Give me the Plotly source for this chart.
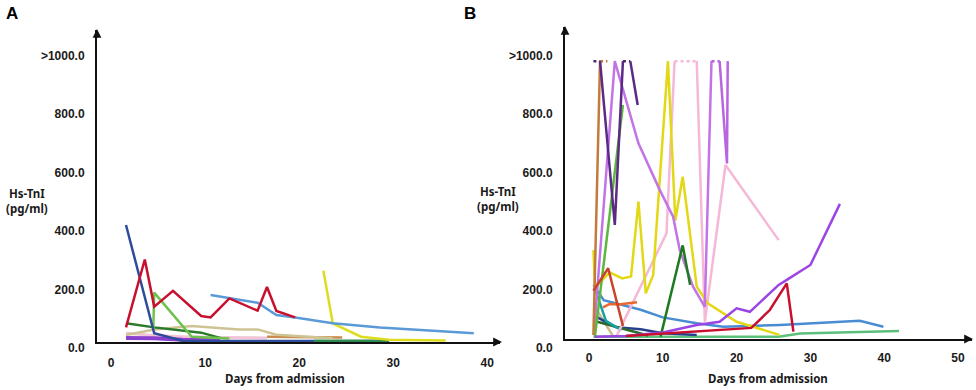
import plotly.graph_objects as go

# ---------------- data ----------------
CAP = 950  # plotted level of ">1000" values

# Panel A
a_navy_days = [2, 5, 8, 22]
a_navy_vals = [400, 30, 4, 3]
a_red_days = [2, 4, 5, 7, 10, 11, 13, 16, 17, 18, 20]
a_red_vals = [50, 282, 121, 175, 89, 84, 149, 107, 188, 106, 84]
a_lblue_days = [11, 16, 18, 20, 24, 29, 39]
a_lblue_vals = [161, 134, 92, 84, 64, 50, 30]
a_yellow_days = [23, 24, 27, 30, 36]
a_yellow_vals = [244, 64, 18, 8, 5]
a_lgreen_days = [4.9, 5, 9, 13]
a_lgreen_vals = [40, 169, 18, 12]
a_dgreen_days = [2, 5, 10, 12]
a_dgreen_vals = [64, 50, 32, 14]
a_tan_days = [2, 5, 9, 14, 16, 18, 24]
a_tan_vals = [24, 43, 55, 43, 43, 25, 13]
a_pink_days = [2, 5, 8, 12, 17]
a_pink_vals = [30, 22, 18, 15, 14]
a_purple_days = [2, 5, 8, 12]
a_purple_vals = [14, 13, 8, 5]
a_orange_days = [17, 20, 25]
a_orange_vals = [18, 16, 15]
a_green2_days = [22, 26, 30]
a_green2_vals = [4, 4, 4]

# Panel B
b_orchid_days = [0.7, 3.5, 6.7, 9.6, 11.4, 12.3, 14.1, 15.7, 16.6]
b_orchid_vals = [30, CAP, 669, 509, 418, 304, 179, 110, CAP]
b_orchid_cap_days = [16.6, 17.7]
b_orchid2_days = [17.7, 18.7, 18.8]
b_orchid2_vals = [CAP, 600, CAP]
b_dpurple_cap1_days = [0.6, 1.5]
b_dpurple1_days = [1.5, 3.5, 4.6]
b_dpurple1_vals = [CAP, 390, CAP]
b_dpurple_cap2_days = [4.6, 5.6]
b_dpurple2_days = [5.6, 6.6]
b_dpurple2_vals = [CAP, 800]
b_brown_days = [0.6, 1.5]
b_brown_vals = [14, CAP]
b_brown_cap_days = [1.5, 2.5]
b_green_days = [0.8, 4.6]
b_green_vals = [8, 800]
b_yellow_days = [0.6, 0.8, 2.8, 4.5, 5.7, 6.7, 7.7, 8.7, 10.7, 11.7, 12.7, 14.6, 16.1, 20, 25.8]
b_yellow_vals = [304, 175, 228, 207, 214, 470, 156, 219, CAP, 405, 555, 179, 122, 59, 14]
b_pink1_days = [3.7, 10.5, 11.6]
b_pink1_vals = [8, 361, CAP]
b_pink_cap_days = [11.6, 14.6]
b_pink2_days = [14.6, 15.7, 18.5, 25.7]
b_pink2_vals = [CAP, 59, 595, 338]
b_violet_days = [0.8, 5, 10, 14.6, 17.7, 20, 21.8, 25.7, 26.8, 30, 34]
b_violet_vals = [8, 10, 22, 48, 59, 105, 93, 185, 202, 253, 462]
b_crimson_days = [5, 10, 16, 22, 24.5, 26.8, 27.7]
b_crimson_vals = [10, 18, 30, 38, 99, 190, 25]
b_blue_days = [0.6, 2, 7, 10, 14.6, 18.2, 25.9, 36.7, 39.9]
b_blue_vals = [185, 133, 100, 74, 54, 42, 48, 62, 42]
b_green2_days = [0.6, 25.7, 28.6, 42]
b_green2_vals = [8, 8, 19, 27]
b_redbrown_days = [0.6, 2.6, 4.6]
b_redbrown_vals = [165, 242, 45]
b_orange_days = [1.9, 2.8, 4, 5.1, 6.5]
b_orange_vals = [108, 120, 118, 122, 126]
b_teal_days = [0.9, 2.3, 4.4]
b_teal_vals = [165, 62, 30]
b_navy_days = [0.8, 3.7, 7, 10, 14.6]
b_navy_vals = [78, 40, 33, 20, 14]
b_dgreen_days = [9.7, 12.7, 13.7]
b_dgreen_vals = [8, 320, 185]
b_dgreen2_days = [1, 4.6, 8]
b_dgreen2_vals = [60, 36, 12]
b_tan_days = [0.8, 3.3]
b_tan_vals = [110, 8]

y_tickvals = [0, 200, 400, 600, 800, 1000]
y_ticktext = ["0.0", "200.0", "400.0", "600.0", "800.0", ">1000.0"]
a_xtickvals = [0, 10, 20, 30, 40]
b_xtickvals = [0, 10, 20, 30, 40, 50]

# ---------------- figure ----------------
fig = go.Figure()


def line(days, vals, color, panel, width=2.5, dash="solid"):
    xa, ya = ("x", "y") if panel == "A" else ("x2", "y2")
    fig.add_trace(go.Scatter(x=days, y=vals, mode="lines", xaxis=xa, yaxis=ya,
                             line=dict(color=color, width=width, dash=dash),
                             showlegend=False, hoverinfo="skip"))


def cap(days, color):
    line(days, [CAP] * len(days), color, "B", width=2.5, dash="dot")


# Panel A
line(a_green2_days, a_green2_vals, "#2f8a4f", "A")
line(a_orange_days, a_orange_vals, "#c98a4b", "A")
line(a_pink_days, a_pink_vals, "#f2c4d6", "A", width=3)
line(a_purple_days, a_purple_vals, "#8a3fd1", "A", width=4)
line(a_tan_days, a_tan_vals, "#cfc393", "A")
line(a_dgreen_days, a_dgreen_vals, "#2a7a2a", "A")
line(a_lgreen_days, a_lgreen_vals, "#6cc24a", "A")
line(a_navy_days, a_navy_vals, "#2f4c9c", "A")
line(a_yellow_days, a_yellow_vals, "#dedc1e", "A")
line(a_lblue_days, a_lblue_vals, "#5a9ad8", "A")
line(a_red_days, a_red_vals, "#c8102e", "A")

# Panel B
line(b_green2_days, b_green2_vals, "#5cc07c", "B")
line(b_tan_days, b_tan_vals, "#cbbb8c", "B")
line(b_navy_days, b_navy_vals, "#27408b", "B")
line(b_dgreen2_days, b_dgreen2_vals, "#2a6a30", "B")
line(b_teal_days, b_teal_vals, "#16a3a0", "B")
line(b_blue_days, b_blue_vals, "#4a8cd4", "B")
line(b_pink1_days, b_pink1_vals, "#f5b8d6", "B")
cap(b_pink_cap_days, "#f5b8d6")
line(b_pink2_days, b_pink2_vals, "#f5b8d6", "B")
line(b_yellow_days, b_yellow_vals, "#e2d816", "B")
line(b_orchid_days, b_orchid_vals, "#c274e6", "B")
cap(b_orchid_cap_days, "#b060d8")
line(b_orchid2_days, b_orchid2_vals, "#b866e0", "B")
line(b_green_days, b_green_vals, "#5cb83c", "B")
line(b_brown_days, b_brown_vals, "#c47a3a", "B")
cap(b_brown_cap_days, "#c47a3a")
cap(b_dpurple_cap1_days, "#4a2a6a")
line(b_dpurple1_days, b_dpurple1_vals, "#5b2a86", "B")
cap(b_dpurple_cap2_days, "#4a2a6a")
line(b_dpurple2_days, b_dpurple2_vals, "#5b2a86", "B")
line(b_dgreen_days, b_dgreen_vals, "#1e7a1e", "B")
line(b_orange_days, b_orange_vals, "#e8682c", "B")
line(b_redbrown_days, b_redbrown_vals, "#c8452b", "B")
line(b_violet_days, b_violet_vals, "#9b45e4", "B")
line(b_crimson_days, b_crimson_vals, "#c8102e", "B")

W, H = 976, 390
tickfont = dict(family="Liberation Sans, Arial, sans-serif", size=12, color="#1a1a1a", weight="bold")
axcommon = dict(showgrid=False, zeroline=False, showline=True, linecolor="#111", linewidth=2,
                ticks="", tickfont=tickfont, automargin=False)

ax_a = (97 / W, 500 / W)
ay_a = ((H - 342) / H, (H - 30) / H)
ax_b = (565 / W, 972 / W)
ay_b = ((H - 339) / H, (H - 27) / H)

fig.update_layout(
    width=W, height=H, margin=dict(l=0, r=0, t=0, b=0, autoexpand=False), autosize=False,
    paper_bgcolor="white", plot_bgcolor="white",
    xaxis=dict(domain=list(ax_a), range=[-1.085, 41.79], anchor="y",
               tickvals=a_xtickvals, ticklabelshift=4, ticklabelstandoff=9, **axcommon),
    yaxis=dict(domain=list(ay_a), range=[0, 1066.7], anchor="x",
               tickvals=y_tickvals, ticktext=y_ticktext, ticklabelshift=6,
               ticklabelstandoff=8, **axcommon),
    xaxis2=dict(domain=list(ax_b), range=[-3.25, 51.9], anchor="y2",
                tickvals=b_xtickvals, ticklabelstandoff=7, **axcommon),
    yaxis2=dict(domain=list(ay_b), range=[0, 1066.7], anchor="x2",
                tickvals=y_tickvals, ticktext=y_ticktext, ticklabelshift=9,
                ticklabelstandoff=8, **axcommon),
)

bold12 = dict(family="Noto Sans, DejaVu Sans, sans-serif", size=11.5, color="#1a1a1a", weight="bold")
ann = []


def text(x, y, s, font):
    ann.append(dict(x=x / W, y=1 - y / H, xref="paper", yref="paper", text=s,
                    showarrow=False, xanchor="center", yanchor="middle", font=font))


def arrow(x, y, ax, ay):
    ann.append(dict(x=x / W, y=1 - y / H, xref="paper", yref="paper", text="",
                    showarrow=True, ax=ax, ay=ay, arrowhead=2, arrowsize=1.1,
                    arrowwidth=1.6, arrowcolor="#111", standoff=0))


letter = dict(family="Liberation Sans, Arial, sans-serif", size=17, color="black", weight="bold")
text(12, 14, "A", letter)
text(470, 14, "B", letter)
text(27, 201, "Hs-TnI<br>(pg/ml)", bold12)
text(498, 199, "Hs-TnI<br>(pg/ml)", bold12)
text(285, 378, "Days from admission", bold12)
text(768, 378, "Days from admission", bold12)
arrow(97, 29, 0, 10)
arrow(502, 342, -10, 0)
arrow(565, 26, 0, 10)
arrow(973, 339, -10, 0)
fig.update_layout(annotations=ann)

fig.write_html(
    "out.html",
    config={"displayModeBar": False, "responsive": False},
    post_script=("document.documentElement.style.margin='0px';"
                 "document.documentElement.style.overflow='hidden';"
                 "document.body.style.margin='0px';"
                 "document.body.style.overflow='hidden';"),
)
